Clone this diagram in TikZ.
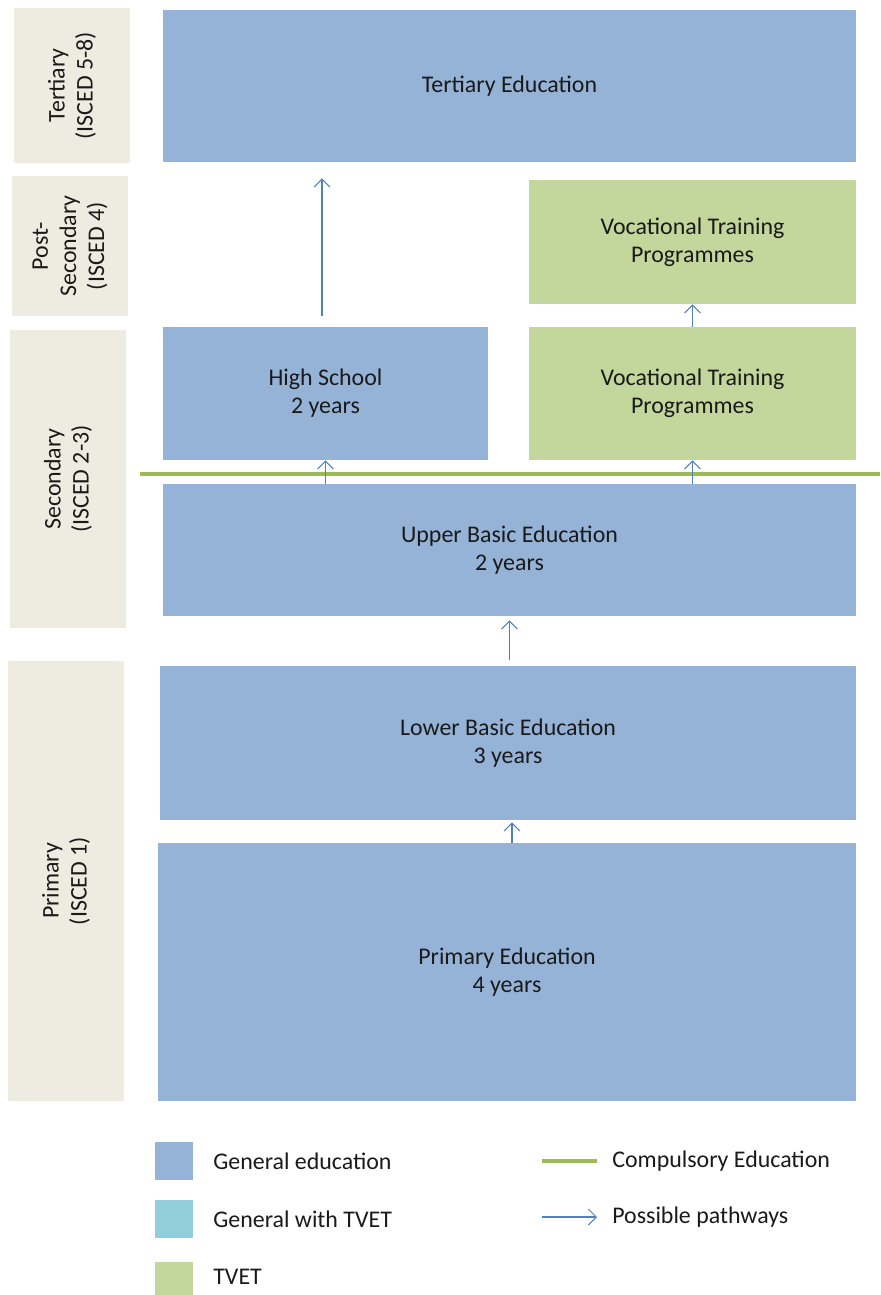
\documentclass[tikz,border=0pt]{standalone}
\usepackage{fontspec}
\setmainfont{Carlito}
\usetikzlibrary{arrows.meta,positioning}
\definecolor{genblue}{HTML}{95B3D7}
\definecolor{tvetgreen}{HTML}{C3D69B}
\definecolor{mixcyan}{HTML}{92CDDC}
\definecolor{levelbg}{HTML}{EEECE1}
\definecolor{compgreen}{HTML}{9BBB59}
\definecolor{pathblue}{HTML}{4F81BD}
\definecolor{txt}{HTML}{1A1A1A}
\tikzset{
    block/.style = {rectangle, fill=genblue, align=center, text=txt,
        font=\fontsize{13.6}{16}\selectfont},
    tblock/.style = {block, fill=tvetgreen},
    level/.style = {rectangle, fill=levelbg, rotate=90, align=center, text=txt,
        minimum height=2.32cm, font=\fontsize{13.6}{16}\selectfont},
    key/.style = {rectangle, minimum width=0.76cm, minimum height=0.76cm},
    keytext/.style = {anchor=west, text=txt, inner sep=0pt, font=\fontsize{13.6}{16}\selectfont},
    pathway/.style = {draw=pathblue, line width=0.6pt, -{Straight Barb[length=4.5pt,width=9pt]}},
    compline/.style = {draw=compgreen, line width=2.8pt}
}
\begin{document}
\begin{tikzpicture}[x=0.02cm, y=-0.02cm]
                \useasboundingbox (0,0) rectangle (880,1295);
                % level labels
                \node[level, minimum width=3.1cm] (tlab) at (72,85.5) {Tertiary\\(ISCED 5-8)};
                \node[level, minimum width=2.8cm] (plab) at (70,246) {Post-\\Secondary\\(ISCED 4)};
                \node[level, minimum width=5.96cm] (slab) at (68,479) {Secondary\\(ISCED 2-3)};
                \node[level, minimum width=8.8cm] (prlab) at (66,881) {Primary\\(ISCED 1)};
                % programmes
                \node[block, minimum width=13.86cm, minimum height=3.04cm] (tert) at (509.5,86) {Tertiary Education};
                \node[tblock, minimum width=6.54cm, minimum height=2.48cm] (voc2) at (692.5,242) {Vocational Training\\Programmes};
                \node[block, minimum width=6.5cm, minimum height=2.66cm] (hs) at (325.5,393.5) {High School\\2 years};
                \node[tblock, minimum width=6.54cm, minimum height=2.66cm] (voc1) at (692.5,393.5) {Vocational Training\\Programmes};
                \node[block, minimum width=13.86cm, minimum height=2.64cm] (upper) at (509.5,550) {Upper Basic Education\\2 years};
                \node[block, minimum width=13.92cm, minimum height=3.08cm] (lower) at (508,743) {Lower Basic Education\\3 years};
                \node[block, minimum width=13.96cm, minimum height=5.16cm] (prim) at (507,972) {Primary Education\\4 years};
                % compulsory education
                \coordinate (c1) at (140,474);
                \coordinate (c2) at (880,474);
                \draw[compline] (c1) -- (c2);
                % pathways
                \draw[pathway, shorten <=11*0.02cm, shorten >=16*0.02cm] ([xshift=-0.07cm]hs.north) -- ([xshift=-0.07cm]hs.north |- tert.south);
                \draw[pathway] (voc1.north) -- (voc2.south);
                \draw[pathway] (hs.south |- upper.north) -- (hs.south);
                \draw[pathway] (voc1.south |- upper.north) -- (voc1.south);
                \draw[pathway, shorten <=0.12cm, shorten >=0.08cm] (lower.north -| upper.south) -- (upper.south);
                \draw[pathway, shorten >=0.04cm] ([xshift=0.1cm]prim.north) -- ([xshift=0.1cm]prim.north |- lower.south);
                % legend
                \node[key, fill=genblue] (kgen) at (174,1161) {};
                \node[keytext] (tgen) at (213,1161) {General education};
                \node[key, fill=mixcyan] (kmix) at (174,1219) {};
                \node[keytext] (tmix) at (213,1219) {General with TVET};
                \node[key, fill=tvetgreen] (ktvet) at (174,1281) {};
                \node[keytext] (ttvet) at (213,1277) {TVET};
                \coordinate (l1) at (542,1161);
                \coordinate (l2) at (597,1161);
                \draw[compline] (l1) -- (l2);
                \node[keytext] (tcomp) at (612,1161) {Compulsory Education};
                \coordinate (a1) at (542,1217);
                \coordinate (a2) at (597,1217);
                \draw[pathway] (a1) -- (a2);
                \node[keytext] (tpath) at (612,1217) {Possible pathways};
            \end{tikzpicture}
\end{document}
